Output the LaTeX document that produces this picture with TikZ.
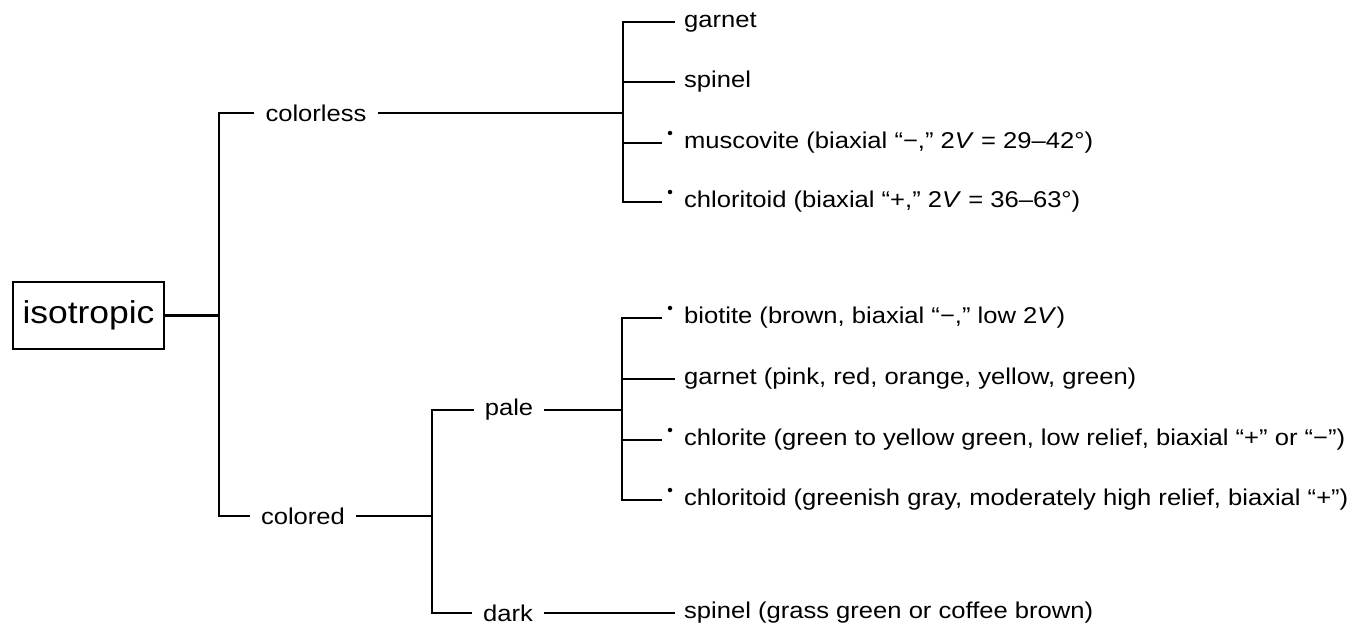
\documentclass[tikz,border=0pt]{standalone}
\usepackage{fontspec}
\setmainfont{Liberation Sans}[FakeStretch=1.12]
\usepackage{tikz}
\usetikzlibrary{positioning,calc}

\begin{document}
\begin{tikzpicture}[x=0.02cm, y=-0.02cm, line width=1.3pt, font=\fontsize{13}{15}\selectfont,
  root/.style={draw, line width=1.5pt, minimum width=3.02cm, minimum height=1.34cm, font=\fontsize{18}{21}\selectfont},
  mid/.style={inner xsep=0.2cm, inner ysep=0pt},
  leaf/.style={anchor=west, inner xsep=0.16cm, inner ysep=0pt},
  dotm/.style={circle, fill, inner sep=0pt, minimum size=0.09cm}]
\useasboundingbox (0,0) rectangle (1366,628);
\node[root] (iso) at (88.5,315.5) {isotropic};
\coordinate (t1) at (219,315.5);
\node[mid] (cl) at (316,113) {colorless};
\node[mid] (cd) at (303,516) {colored};
\draw (iso) -- (t1);
\draw (cl) -| (t1) |- (cd);
\coordinate (b2) at (623,113);
\draw (cl) -- (b2);
\foreach \n/\y/\s/\t in {a1/22/0cm/garnet, a2/82/0cm/spinel,
  a3/143/0.26cm/{muscovite (biaxial “−,” 2\textit{V} = 29–42°)},
  a4/202/0.26cm/{chloritoid (biaxial “+,” 2\textit{V} = 36–63°)}}{
  \node[leaf] (\n) at (675,\y) {\t};
  \draw[shorten >=\s] (b2) |- (\n);
}
\coordinate (b3) at (432,516);
\node[mid] (pl) at (509,410) {pale};
\node[mid] (dk) at (508,613) {dark};
\draw (cd) -- (b3);
\draw (pl) -| (b3) |- (dk);
\coordinate (b4) at (622,410);
\draw (pl) -- (b4);
\foreach \n/\y/\s/\t in {c1/318/0.26cm/{biotite (brown, biaxial “−,” low 2\textit{V})},
  c2/379/0cm/{garnet (pink, red, orange, yellow, green)},
  c3/440/0.26cm/{chlorite (green to yellow green, low relief, biaxial “+” or “−”)},
  c4/500/0.26cm/{chloritoid (greenish gray, moderately high relief, biaxial “+”)}}{
  \node[leaf] (\n) at (675,\y) {\t};
  \draw[shorten >=\s] (b4) |- (\n);
}
\node[leaf] (d1) at (675,613) {spinel (grass green or coffee brown)};
\draw (dk) -- (d1);
\foreach \n in {a3,a4,c1,c3,c4}
  \node[dotm] (\n d) at ([shift={(-0.1cm,0.2cm)}]\n.west) {};
\end{tikzpicture}
\end{document}
